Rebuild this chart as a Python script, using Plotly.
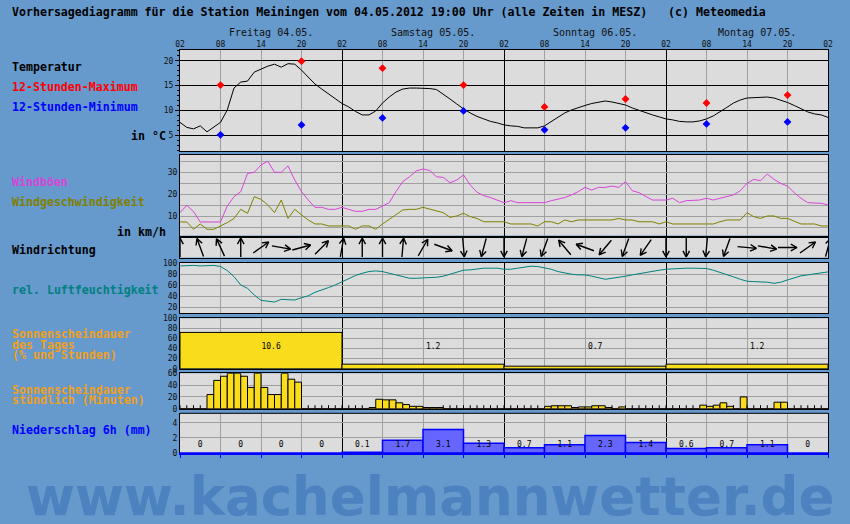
import math
import plotly.graph_objects as go

# ---------- data (hours counted from Friday 02:00 MESZ)
hours = list(range(97))

temp = [7.6, 6.6, 6.3, 6.9, 5.7, 6.6, 7.6, 10.1, 14.5, 15.7,
        15.9, 17.7, 18.3, 18.9, 19.3, 18.7, 19.4, 19.3, 18.1, 16.7,
        15.3, 14.3, 13.3, 12.3, 11.4, 10.7, 9.8, 9.1, 9.1, 9.9,
        11.5, 12.7, 13.7, 14.3, 14.5, 14.5, 14.5, 14.4, 14.2, 13.3,
        12.3, 11.3, 10.3, 9.5, 8.8, 8.3, 7.8, 7.5, 7.1, 6.9,
        6.8, 6.5, 6.5, 6.5, 6.9, 7.8, 8.7, 9.5, 10.1, 10.6,
        11.0, 11.4, 11.7, 11.9, 11.7, 11.4, 11.1, 10.5, 10.0, 9.6,
        9.1, 8.7, 8.3, 8.1, 7.8, 7.7, 7.7, 7.9, 8.3, 8.9,
        9.7, 10.6, 11.5, 12.1, 12.5, 12.6, 12.6, 12.7, 12.5, 12.1,
        11.6, 11.0, 10.3, 9.7, 9.3, 9.1, 8.6]

minmax_hours = [6, 18, 30, 42, 54, 66, 78, 90]
tmax_12h = [15.1, 19.9, 18.5, 15.1, 10.7, 12.3, 11.5, 13.1]
tmin_12h = [5.1, 7.1, 8.5, 9.9, 6.1, 6.5, 7.3, 7.7]

gusts = [11.8, 15.1, 12.3, 7.6, 7.6, 7.6, 7.6, 14.8, 19.0, 21.3,
         29.5, 30.0, 33.3, 35.0, 30.0, 30.0, 32.9, 26.5, 21.3, 17.5,
         14.2, 14.2, 13.3, 13.3, 14.2, 13.3, 12.4, 12.4, 13.3, 13.3,
         14.8, 16.3, 21.3, 25.8, 28.0, 30.6, 31.5, 30.8, 28.0, 27.7,
         25.3, 26.5, 28.8, 24.3, 21.0, 19.5, 18.6, 17.5, 16.3, 17.2,
         16.3, 16.3, 16.3, 16.3, 16.3, 17.2, 17.8, 18.6, 19.8, 21.3,
         23.2, 22.0, 23.2, 23.2, 23.8, 23.2, 25.8, 21.7, 20.8, 19.3,
         17.5, 17.5, 17.5, 18.3, 16.3, 17.2, 17.5, 17.5, 18.3, 17.5,
         18.3, 19.0, 19.8, 21.7, 25.0, 26.8, 26.2, 29.2, 26.8, 25.0,
         23.8, 20.8, 18.3, 16.3, 16.3, 16.0, 15.3]

wind_speed = [7.6, 7.6, 4.3, 6.7, 4.3, 4.3, 5.8, 7.3, 9.2, 13.3,
              11.5, 19.0, 17.8, 15.3, 11.8, 17.5, 9.2, 13.3, 10.8, 8.5,
              6.7, 6.7, 5.8, 5.8, 5.8, 5.8, 4.3, 5.8, 5.8, 4.3,
              6.7, 8.8, 10.8, 13.0, 13.3, 13.3, 14.2, 13.3, 12.7, 11.8,
              9.7, 10.3, 11.5, 10.0, 9.2, 7.7, 7.7, 7.7, 7.7, 6.7,
              6.7, 6.7, 6.7, 5.8, 7.7, 7.7, 6.7, 8.5, 7.7, 8.5,
              8.5, 8.5, 8.5, 8.5, 8.5, 9.2, 8.5, 8.5, 7.7, 7.7,
              7.7, 6.7, 7.7, 6.7, 6.7, 6.7, 6.7, 6.7, 6.7, 6.7,
              7.7, 8.5, 8.5, 8.5, 11.8, 10.0, 9.2, 10.3, 10.3, 9.2,
              9.2, 8.0, 6.7, 6.7, 6.7, 5.8, 5.8]

# arrows every 3 hours, bearing the arrow points to (0 = up)
dir_hours = list(range(0, 97, 3))
arrow_bearing = [0, 340, 335, 0, 55, 100, 75, 45, 10, 0, 0, 5, 30,
                 110, 175, 195, 180, 195, 200, 320, 290, 220, 200, 215,
                 180, 180, 185, 200, 95, 100, 90, 55, 15]

humidity = [95, 96, 96, 95, 95, 96, 94, 86.6, 75.7, 60.6,
            54.5, 42.4, 32.7, 30.9, 29.7, 34.5, 33.3, 33.3, 37.5, 41,
            47.3, 50.9, 55.8, 60.6, 66.7, 72.7, 77.6, 81.8, 84.8, 86,
            84.8, 81.8, 78.8, 75.2, 72.7, 72.7, 72.7, 73.9, 74.5, 76.4,
            80, 83.6, 87.3, 87.9, 89.7, 90.9, 90.9, 90.9, 89, 89,
            90.9, 93.3, 94.5, 93.9, 92.1, 89, 84.8, 81.8, 80, 78.8,
            78.8, 76.4, 73.9, 70.9, 72.7, 75.2, 76.4, 78.8, 81.2, 82.4,
            84.8, 87.3, 89, 89.7, 90.9, 90.9, 90.9, 90.9, 90.3, 87.3,
            83.6, 78.8, 75.2, 70.9, 67.3, 66.7, 66.7, 65.5, 63.6, 65.5,
            69.7, 73.9, 77, 78.8, 80.6, 82.4, 84.2]

day_names = ["Freitag 04.05.", "Samstag 05.05.", "Sonntag 06.05.", "Montag 07.05."]
day_start = [0, 24, 48, 72]
sun_day_pct = [72, 9, 5, 9]
sun_day_hours = ["10.6", "1.2", "0.7", "1.2"]

sun_hour_start = list(range(96))
sun_minutes = [0, 0, 0, 0, 24, 48, 55, 60, 60, 55, 36, 60, 36, 24, 24, 60, 50, 45,
               0, 0, 0, 0, 0, 0, 0, 0, 0, 0,
               2, 16, 15, 15, 10, 7, 4, 4, 2, 2, 2,
               0, 0, 0, 0, 0, 0, 0, 0, 0, 0, 0, 0, 0, 0, 0,
               4, 5, 5, 5, 2, 3, 3, 5, 5, 2, 0, 3,
               0, 0, 0, 0, 0, 0, 0, 0, 0, 0, 0,
               6, 4, 6, 10, 4, 0, 20, 0, 0, 0, 0, 11, 11,
               0, 0, 0, 0, 0, 0]

precip_start = list(range(0, 96, 6))
precip_6h = [0, 0, 0, 0, 0.1, 1.7, 3.1, 1.3, 0.7, 1.1, 2.3, 1.4, 0.6, 0.7, 1.1, 0]

hour_labels = ["02", "08", "14", "20"]

# ---------- page geometry
W, H = 850, 524
ML, MR, MT, MB = 180, 22, 50, 71
PW, PH = W - ML - MR, H - MT - MB
PX_PER_H = PW / 96


def yp(ypx):
    return (H - MB - ypx) / PH


def xp(xpx):
    return (xpx - ML) / PW


BG = "#6699cc"
GRID = "#a0a0a0"
MONO = "DejaVu Sans Mono"
SUN = "#f9dc1c"

fig = go.Figure()

# temperature
fig.add_trace(go.Scatter(x=hours, y=temp, mode="lines", line=dict(color="black", width=1),
                         xaxis="x", yaxis="y"))
fig.add_trace(go.Scatter(x=minmax_hours, y=tmax_12h, mode="markers",
                         marker=dict(symbol="diamond", size=6, color="#ff0000"), xaxis="x", yaxis="y"))
fig.add_trace(go.Scatter(x=minmax_hours, y=tmin_12h, mode="markers",
                         marker=dict(symbol="diamond", size=6, color="#0000ff"), xaxis="x", yaxis="y"))
# carrier for the hour labels on top
fig.add_trace(go.Scatter(x=hours, y=temp, mode="lines", line=dict(width=0), opacity=0,
                         xaxis="x8", yaxis="y"))

# wind
fig.add_trace(go.Scatter(x=hours, y=gusts, mode="lines", line=dict(color="#d844d8", width=1),
                         xaxis="x2", yaxis="y2"))
fig.add_trace(go.Scatter(x=hours, y=wind_speed, mode="lines", line=dict(color="#808000", width=1),
                         xaxis="x2", yaxis="y2"))

# wind direction arrows (row axis in pixel units)
L, BARB = 19, 7
ax_, ay_ = [], []
for h, b in zip(dir_hours, arrow_bearing):
    t = math.radians(b)
    ux, uy = math.sin(t), math.cos(t)
    hx, hy = L / 2 * ux, L / 2 * uy
    ax_ += [h - hx / PX_PER_H, h + hx / PX_PER_H]
    ay_ += [-hy, hy]
    for s in (1, -1):
        a = t + math.pi + s * math.radians(28)
        ax_ += [h + (hx + BARB * math.sin(a)) / PX_PER_H]
        ay_ += [hy + BARB * math.cos(a)]
        if s == 1:
            ax_ += [None, h + hx / PX_PER_H]
            ay_ += [None, hy]
    ax_.append(None)
    ay_.append(None)
fig.add_trace(go.Scatter(x=ax_, y=ay_, mode="lines", line=dict(color="black", width=1.4),
                         cliponaxis=False, xaxis="x3", yaxis="y3"))

# humidity
fig.add_trace(go.Scatter(x=hours, y=humidity, mode="lines", line=dict(color="#008080", width=1),
                         xaxis="x4", yaxis="y4"))

# daily sunshine
fig.add_trace(go.Bar(x=[d + 12 for d in day_start], y=sun_day_pct, width=24,
                     marker=dict(color=SUN, line=dict(color="black", width=1)),
                     xaxis="x5", yaxis="y5"))
fig.add_trace(go.Scatter(x=[d + 13.5 for d in day_start], y=[43] * 4, mode="text", text=sun_day_hours,
                         textfont=dict(family=MONO, size=8, color="black"), xaxis="x5", yaxis="y5"))

# hourly sunshine
fig.add_trace(go.Bar(x=[h + 0.5 for h in sun_hour_start], y=sun_minutes, width=1,
                     marker=dict(color=SUN, line=dict(color="black", width=1)),
                     xaxis="x6", yaxis="y6"))
zero_h = [h for h, m in zip(sun_hour_start, sun_minutes) if m == 0]
fig.add_trace(go.Scatter(x=zero_h, y=[0] * len(zero_h), mode="markers",
                         marker=dict(symbol="line-ns", size=5, line=dict(color="black", width=1)),
                         xaxis="x6", yaxis="y6"))

# precipitation
fig.add_trace(go.Bar(x=[h + 3 for h in precip_start], y=precip_6h, width=6,
                     marker=dict(color="#6666ff", line=dict(color="#0000ff", width=1.5)),
                     xaxis="x7", yaxis="y7"))
fig.add_trace(go.Scatter(x=[h + 3 for h in precip_start], y=[1.1] * len(precip_6h), mode="text",
                         text=[f"{v:g}" for v in precip_6h],
                         textfont=dict(family=MONO, size=8, color="black"), xaxis="x7", yaxis="y7"))

# ---------- axes
panels = [
    # (top px, bottom px, range, tickvals, ticktext, gridcolor)
    (50, 151, [1.85, 22.15], [5, 10, 15, 20], None, "black"),
    (155, 235.5, [1.5, 37.8], [5, 10, 15, 20, 25, 30, 35], ["", "10", "", "20", "", "30", ""], GRID),
    (237.5, 257.5, [-10, 10], [], None, GRID),
    (263, 313.3, [9.3, 100.3], [20, 40, 60, 80, 100], None, GRID),
    (318.3, 368.7, [0, 100], [0, 20, 40, 60, 80, 100], None, GRID),
    (373.3, 408.7, [0, 60], [0, 20, 40, 60], None, GRID),
    (413.3, 453, [0, 5.25], [0, 2, 4], None, GRID),
]

xticks = list(range(0, 97, 6))
xtext = [hour_labels[i % 4] for i in range(len(xticks))]
tickfont = dict(family=MONO, size=8, color="#101010")

layout = dict(
    width=W, height=H, margin=dict(l=ML, r=MR, t=MT, b=MB),
    paper_bgcolor=BG, plot_bgcolor="#dcdcdc", showlegend=False, hovermode=False,
    font=dict(family=MONO, color="black"),
)
shapes = []
for i, (top, bot, rng, tv, tt, gc) in enumerate(panels, start=1):
    sx = "" if i == 1 else str(i)
    xa = dict(domain=[0, 1], anchor="y" + sx, range=[0, 96], tickmode="linear", tick0=0, dtick=24,
              showgrid=True, gridcolor="black", gridwidth=1, zeroline=False,
              showline=True, mirror=True, linecolor="black", linewidth=1,
              showticklabels=False, ticks="", fixedrange=True,
              minor=dict(tickmode="linear", tick0=0, dtick=6, showgrid=True, gridcolor=GRID,
                         gridwidth=1, ticks=""))
    ya = dict(domain=[yp(bot), yp(top)], anchor="x" + sx, range=rng, tickmode="array", tickvals=tv,
              showgrid=True, gridcolor=gc, gridwidth=1, zeroline=False, showline=True, mirror=True,
              linecolor="black", linewidth=1, ticks="", tickfont=tickfont, fixedrange=True,
              showticklabels=bool(tv))
    if tt:
        ya["ticktext"] = tt
    if i == 1:
        ya.update(tickmode="linear", tick0=0, dtick=5, ticks="outside", ticklen=4, tickcolor="black",
                  minor=dict(tickmode="linear", tick0=0, dtick=1, ticks="outside", ticklen=2,
                             tickcolor="black", showgrid=False))
        ya.pop("tickvals")
    if i == 7:
        xa.update(mirror=False, linecolor="#0000ff", linewidth=2, ticks="outside", ticklen=3,
                  tickcolor="#0000ff")
        xa["minor"].update(ticks="outside", ticklen=3, tickcolor="#0000ff")
        shapes.append(dict(type="line", xref="x7 domain", yref="y7 domain", x0=0, x1=1, y0=1, y1=1,
                           line=dict(color="black", width=1)))
    layout["xaxis" + sx] = xa
    layout["yaxis" + sx] = ya

# hour labels above the top panel
layout["xaxis8"] = dict(overlaying="x", anchor="y", side="top", range=[0, 96], tickmode="array",
                        tickvals=xticks, ticktext=xtext, showgrid=False, zeroline=False,
                        showline=False, ticks="", tickfont=tickfont, fixedrange=True)
layout["shapes"] = shapes

# ---------- texts
ann = []
ann.append(dict(text="<b>Vorhersagediagramm für die Station Meiningen vom 04.05.2012 19:00 Uhr "
                     "(alle Zeiten in MESZ)   (c) Meteomedia</b>",
                x=xp(10), y=yp(12), xanchor="left", yanchor="middle",
                font=dict(family=MONO, size=11.6, color="black")))
for name, d in zip(day_names, day_start):
    ann.append(dict(text=name, x=d + 13.5, xref="x", y=yp(32), xanchor="center", yanchor="middle",
                    font=dict(family=MONO, size=10, color="#101010")))

left_labels = [
    ("Temperatur", 67, "black"),
    ("12-Stunden-Maximum", 87, "#ff0000"),
    ("12-Stunden-Minimum", 107, "#0000ff"),
    ("Windböen", 182, "#d844d8"),
    ("Windgeschwindigkeit", 202, "#808000"),
    ("Windrichtung", 250, "black"),
    ("rel. Luftfeuchtigkeit", 290, "#008080"),
    ("Sonnenscheindauer", 334, "#f0a020"),
    ("des Tages", 344.5, "#f0a020"),
    ("(% und Stunden)", 355, "#f0a020"),
    ("Sonnenscheindauer", 390, "#f0a020"),
    ("stündlich (Minuten)", 400, "#f0a020"),
    ("Niederschlag 6h (mm)", 430, "#0000ff"),
]
for txt, y, c in left_labels:
    ann.append(dict(text=f"<b>{txt}</b>", x=xp(10), y=yp(y), xanchor="left", yanchor="middle",
                    font=dict(family=MONO, size=11.6, color=c)))
for txt, y in [("in °C", 136), ("in km/h", 232)]:
    ann.append(dict(text=f"<b>{txt}</b>", x=xp(168), y=yp(y), xanchor="right", yanchor="middle",
                    font=dict(family=MONO, size=11.6, color="black")))

ann.append(dict(text="<b>www.kachelmannwetter.de</b>", x=xp(430), y=yp(497), xanchor="center",
                yanchor="middle", font=dict(family="DejaVu Sans", size=53, color="#4c82c0")))

for a in ann:
    a.setdefault("xref", "paper")
    a.setdefault("yref", "paper")
    a["showarrow"] = False
layout["annotations"] = ann

fig.update_layout(layout)
fig.write_html("out.html", config={"displayModeBar": False},
               post_script="document.body.style.margin='0px';"
                           "document.body.style.overflow='hidden';")
